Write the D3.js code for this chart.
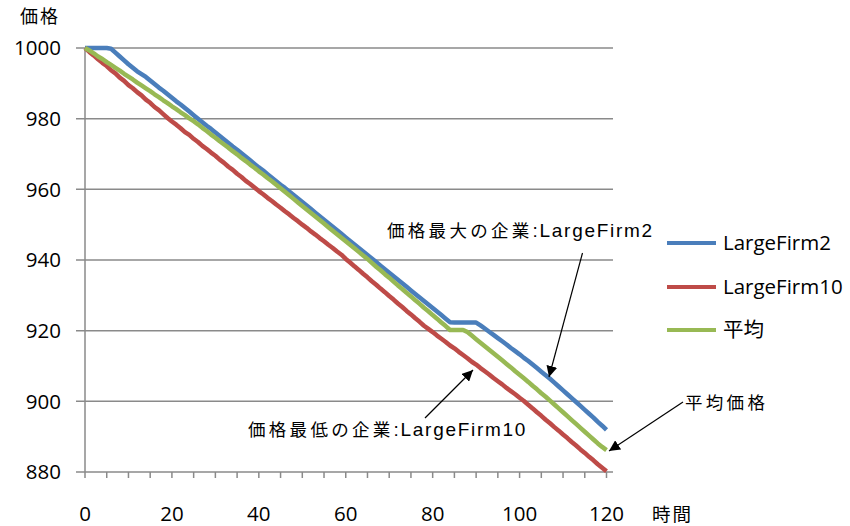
<!DOCTYPE html>
<html>
<head>
<meta charset="utf-8">
<script src="https://cdn.jsdelivr.net/npm/d3@7"></script>
<style>
  body { margin: 0; background: #fff; }
  svg { display: block; }
  .num { font-family: "Open Sans", "Noto Sans CJK JP", sans-serif; fill: #000; }
  .jp { font-family: "Noto Sans CJK JP", sans-serif; fill: #000; }
  .note { font-family: "Liberation Sans", "Noto Sans CJK JP", sans-serif; fill: #000; }
</style>
</head>
<body>
<svg id="chart" width="850" height="526"></svg>
<script>
// time steps 0..120
const times = d3.range(0, 121);

// LargeFirm2 (price maximum firm)
const firm2 = [
  1000, 1000, 1000, 1000, 1000, 1000, 999.8, 998.7, 997.6, 996.5,
  995.4, 994.4, 993.4, 992.6, 991.8, 990.8, 989.8, 988.8, 987.9, 986.9,
  985.9, 984.9, 984.0, 983.0, 982.0, 981.0, 980.0, 979.0, 978.0, 977.1,
  976.1, 975.1, 974.1, 973.1, 972.1, 971.2, 970.2, 969.2, 968.2, 967.2,
  966.2, 965.3, 964.3, 963.3, 962.3, 961.3, 960.4, 959.4, 958.4, 957.4,
  956.4, 955.4, 954.4, 953.4, 952.4, 951.4, 950.4, 949.4, 948.4, 947.4,
  946.4, 945.4, 944.4, 943.4, 942.4, 941.4, 940.4, 939.4, 938.4, 937.4,
  936.4, 935.4, 934.4, 933.4, 932.4, 931.4, 930.4, 929.4, 928.4, 927.4,
  926.4, 925.4, 924.4, 923.4, 922.4, 922.3, 922.3, 922.3, 922.3, 922.3,
  922.3, 921.5, 920.6, 919.7, 918.8, 917.9, 917.0, 916.1, 915.1, 914.2,
  913.3, 912.3, 911.4, 910.4, 909.4, 908.4, 907.4, 906.4, 905.3, 904.2,
  903.1, 902.0, 900.9, 899.8, 898.7, 897.6, 896.5, 895.4, 894.2, 893.1,
  891.9
];

// LargeFirm10 (price minimum firm)
const firm10 = [
  1000, 998.9, 997.9, 996.8, 995.8, 994.9, 993.7, 992.8, 991.6, 990.7,
  989.5, 988.6, 987.5, 986.6, 985.4, 984.5, 983.3, 982.4, 981.3, 980.2,
  979.2, 978.3, 977.3, 976.2, 975.4, 974.3, 973.4, 972.3, 971.4, 970.4,
  969.5, 968.4, 967.5, 966.4, 965.5, 964.4, 963.5, 962.4, 961.5, 960.5,
  959.5, 958.6, 957.6, 956.7, 955.7, 954.8, 953.8, 952.9, 951.9, 951.0,
  950.0, 949.1, 948.1, 947.2, 946.2, 945.3, 944.3, 943.4, 942.4, 941.5,
  940.3, 939.3, 938.2, 937.2, 936.1, 935.1, 934.0, 933.0, 931.9, 930.9,
  929.8, 928.8, 927.7, 926.7, 925.6, 924.6, 923.5, 922.5, 921.4, 920.5,
  919.6, 918.6, 917.7, 916.8, 915.8, 915.0, 914.0, 913.1, 912.2, 911.2,
  910.4, 909.4, 908.5, 907.6, 906.6, 905.7, 904.8, 903.8, 902.9, 902.0,
  901.0, 900.1, 899.0, 898.0, 896.9, 895.9, 894.8, 893.8, 892.7, 891.7,
  890.6, 889.6, 888.5, 887.5, 886.4, 885.4, 884.3, 883.3, 882.2, 881.2,
  880.2
];

// 平均 (average price)
const avg = [
  1000, 999.3, 998.5, 997.6, 996.9, 996.0, 995.2, 994.4, 993.6, 992.7,
  991.9, 991.1, 990.2, 989.4, 988.6, 987.8, 986.9, 986.1, 985.2, 984.4,
  983.5, 982.7, 981.8, 981.0, 980.1, 979.3, 978.4, 977.4, 976.5, 975.5,
  974.6, 973.6, 972.7, 971.8, 970.8, 969.9, 968.9, 968.0, 967.0, 966.1,
  965.1, 964.2, 963.2, 962.3, 961.3, 960.3, 959.3, 958.3, 957.3, 956.3,
  955.3, 954.3, 953.3, 952.3, 951.3, 950.3, 949.3, 948.3, 947.3, 946.3,
  945.3, 944.3, 943.3, 942.3, 941.3, 940.3, 939.2, 938.1, 937.1, 936.0,
  935.0, 933.9, 932.8, 931.8, 930.7, 929.7, 928.6, 927.6, 926.5, 925.5,
  924.4, 923.4, 922.3, 921.3, 920.2, 920.2, 920.2, 920.2, 919.6, 918.6,
  917.6, 916.6, 915.6, 914.6, 913.6, 912.6, 911.6, 910.6, 909.6, 908.5,
  907.5, 906.5, 905.5, 904.4, 903.4, 902.3, 901.3, 900.2, 899.1, 898.0,
  896.9, 895.8, 894.7, 893.6, 892.5, 891.4, 890.3, 889.2, 888.1, 887.1,
  886.2
];

const yTicks = [880, 900, 920, 940, 960, 980, 1000];
const xLabels = [0, 20, 40, 60, 80, 100, 120];
const xMinor = d3.range(0, 121, 5);

const series = [
  { name: "LargeFirm2", values: firm2, color: "#4a7ebb" },
  { name: "LargeFirm10", values: firm10, color: "#be4b48" },
  { name: "平均", values: avg, color: "#98b954" }
];

const svg = d3.select("#chart");

const plotLeft = 85, plotRight = 613;
const x = d3.scaleLinear().domain([0, 120]).range([85, 606.5]);
const y = d3.scaleLinear().domain([880, 1000]).range([472, 48]);

// gridlines
svg.append("g")
  .selectAll("line")
  .data(yTicks)
  .join("line")
    .attr("x1", plotLeft - 9)
    .attr("x2", plotRight)
    .attr("y1", d => y(d))
    .attr("y2", d => y(d))
    .attr("stroke", "#8a8a8a")
    .attr("stroke-width", 1.5);

// y axis line
svg.append("line")
  .attr("x1", plotLeft).attr("x2", plotLeft)
  .attr("y1", y(1000)).attr("y2", y(880))
  .attr("stroke", "#8a8a8a")
  .attr("stroke-width", 1.5);

// x minor ticks
svg.append("g")
  .selectAll("line")
  .data(xMinor)
  .join("line")
    .attr("x1", d => x(d)).attr("x2", d => x(d))
    .attr("y1", y(880)).attr("y2", y(880) + 6)
    .attr("stroke", "#8a8a8a")
    .attr("stroke-width", 1.5);

// y labels
svg.append("g")
  .selectAll("text")
  .data(yTicks)
  .join("text")
    .attr("class", "num")
    .attr("x", 61)
    .attr("y", d => y(d))
    .attr("dy", "0.36em")
    .attr("text-anchor", "end")
    .attr("font-size", 20.5)
    .text(d => d);

// x labels
svg.append("g")
  .selectAll("text")
  .data(xLabels)
  .join("text")
    .attr("class", "num")
    .attr("x", d => x(d))
    .attr("y", 514)
    .attr("dy", "0.36em")
    .attr("text-anchor", "middle")
    .attr("font-size", 20.5)
    .text(d => d);

// axis titles
svg.append("text").attr("class", "jp")
  .attr("x", 20).attr("y", 17).attr("dy", "0.36em")
  .attr("font-size", 18).attr("letter-spacing", 2)
  .text("価格");

svg.append("text").attr("class", "jp")
  .attr("x", 652).attr("y", 514).attr("dy", "0.36em")
  .attr("font-size", 18.5).attr("letter-spacing", 2)
  .text("時間");

// lines
const line = d3.line()
  .x((d, i) => x(times[i]))
  .y(d => y(d));

svg.append("g")
  .selectAll("path")
  .data(series)
  .join("path")
    .attr("fill", "none")
    .attr("stroke", d => d.color)
    .attr("stroke-width", 4.5)
    .attr("stroke-linejoin", "round")
    .attr("d", d => line(d.values));

// legend
const legendY = [243, 287, 330];
const legend = svg.append("g")
  .selectAll("g")
  .data(series)
  .join("g")
    .attr("transform", (d, i) => `translate(667,${legendY[i]})`);

legend.append("line")
  .attr("x1", 0).attr("x2", 49)
  .attr("stroke", d => d.color)
  .attr("stroke-width", 4);

legend.append("text")
  .attr("class", "num")
  .attr("x", 56)
  .attr("dy", "0.36em")
  .attr("font-size", 20.5)
  .text(d => d.name);

// annotations
svg.append("defs").append("marker")
  .attr("id", "arrow")
  .attr("viewBox", "0 0 10 10")
  .attr("refX", 10).attr("refY", 5)
  .attr("markerWidth", 11).attr("markerHeight", 11)
  .attr("markerUnits", "userSpaceOnUse")
  .attr("orient", "auto")
  .append("path")
    .attr("d", "M0,0L10,5L0,10z")
    .attr("fill", "#000");

const notes = [
  { jp: "価格最大の企業", en: ":LargeFirm2", tx: 387, ty: 231, from: [582.5, 253], to: [549, 377] },
  { jp: "価格最低の企業", en: ":LargeFirm10", tx: 248, ty: 430, from: [425, 418], to: [473, 370] },
  { jp: "平均価格", en: "", tx: 685, ty: 403, from: [683, 402], to: [609, 451] }
];

svg.append("g")
  .selectAll("line")
  .data(notes)
  .join("line")
    .attr("x1", d => d.from[0]).attr("y1", d => d.from[1])
    .attr("x2", d => d.to[0]).attr("y2", d => d.to[1])
    .attr("stroke", "#000")
    .attr("stroke-width", 1.2)
    .attr("marker-end", "url(#arrow)");

const noteText = svg.append("g")
  .selectAll("text")
  .data(notes)
  .join("text")
    .attr("class", "note")
    .attr("x", d => d.tx)
    .attr("y", d => d.ty)
    .attr("dy", "0.36em");

noteText.append("tspan")
  .attr("font-size", 17.5)
  .attr("letter-spacing", 3.3)
  .text(d => d.jp);

noteText.append("tspan")
  .attr("font-size", 19)
  .attr("letter-spacing", 1.7)
  .text(d => d.en);
</script>
</body>
</html>
